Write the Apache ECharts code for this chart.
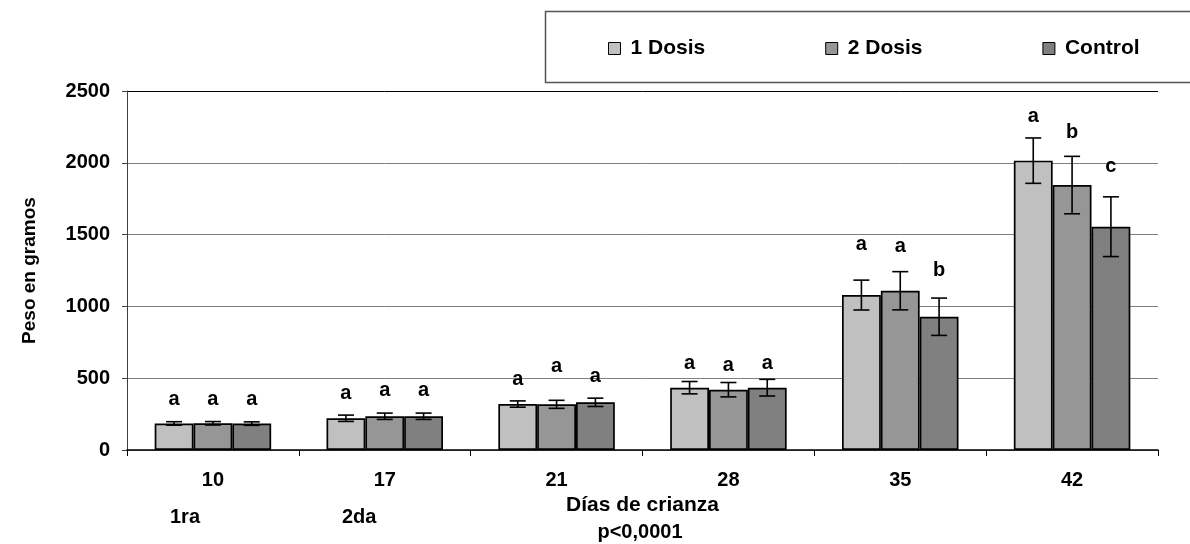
<!DOCTYPE html>
<html>
<head>
<meta charset="utf-8">
<script src="https://cdn.jsdelivr.net/npm/echarts@6/dist/echarts.min.js"></script>
<style>html,body{margin:0;padding:0;background:#fff}#c{width:1190px;height:544px}</style>
</head>
<body>
<div id="c"></div>
<script>
const categories = ['10', '17', '21', '28', '35', '42'];
const seriesNames = ['1 Dosis', '2 Dosis', 'Control'];
const dosis1 = [185, 221, 320, 434, 1079, 2015];
const dosis2 = [186, 235, 318, 420, 1109, 1845];
const control = [184, 235, 332, 434, 928, 1555];
const err1 = [12, 22, 22, 43, 104, 158];
const err2 = [12, 22, 28, 50, 133, 200];
const errC = [12, 22, 29, 58, 130, 208];
const letters1 = ['a', 'a', 'a', 'a', 'a', 'a'];
const letters2 = ['a', 'a', 'a', 'a', 'a', 'b'];
const lettersC = ['a', 'a', 'a', 'a', 'b', 'c'];
const letterY1 = [355, 397, 494, 604, 1428, 2321];
const letterY2 = [355, 411, 580, 592, 1416, 2210];
const letterYC = [355, 411, 510, 604, 1253, 1973];
const yTicks = [0, 500, 1000, 1500, 2000, 2500];

const FONT = "'Liberation Sans', Arial, sans-serif";
const colors = ['#C0C0C0', '#969696', '#808080'];
const values = [dosis1, dosis2, control];
const errs = [err1, err2, errC];
const letters = [letters1, letters2, lettersC];
const letterYs = [letterY1, letterY2, letterYC];
const BAR_FRAC = 0.226;

const chart = echarts.init(document.getElementById('c'));
const series = [];
values.forEach((vals, s) => {
  series.push({
    name: seriesNames[s], type: 'bar', data: vals,
    barWidth: (BAR_FRAC * 100) + '%', barGap: '0%',
    itemStyle: { color: colors[s], borderColor: '#000', borderWidth: 1.7 },
    z: 2
  });
});
values.forEach((vals, s) => {
  const off = s - 1;
  series.push({
    type: 'custom', silent: true, z: 5,
    data: vals.map((v, i) => [i, v - errs[s][i], v + errs[s][i]]),
    encode: { x: 0, y: [1, 2] },
    renderItem: function (params, api) {
      const band = api.size([1, 0])[0];
      const lo = api.coord([api.value(0), api.value(1)]);
      const hi = api.coord([api.value(0), api.value(2)]);
      const x = lo[0] + off * band * BAR_FRAC;
      const cap = 8;
      const st = { stroke: '#000', lineWidth: 1.6 };
      return { type: 'group', children: [
        { type: 'line', shape: { x1: x, y1: lo[1], x2: x, y2: hi[1] }, style: st },
        { type: 'line', shape: { x1: x - cap, y1: lo[1], x2: x + cap, y2: lo[1] }, style: st },
        { type: 'line', shape: { x1: x - cap, y1: hi[1], x2: x + cap, y2: hi[1] }, style: st }
      ] };
    }
  });
  series.push({
    type: 'custom', silent: true, z: 6,
    data: letterYs[s].map((v, i) => [i, v]),
    encode: { x: 0, y: 1 },
    renderItem: function (params, api) {
      const band = api.size([1, 0])[0];
      const p = api.coord([api.value(0), api.value(1)]);
      return { type: 'text', x: p[0] + off * band * BAR_FRAC, y: p[1],
        style: { text: letters[s][params.dataIndex], fill: '#000', font: 'bold 20px ' + FONT,
          align: 'center', verticalAlign: 'middle' } };
    }
  });
});

chart.setOption({
  animation: false,
  backgroundColor: '#fff',
  textStyle: { fontFamily: FONT },
  grid: { left: 127, right: 32, top: 91, bottom: 94, containLabel: false },
  legend: {
    data: seriesNames, left: 603, top: 33, itemWidth: 12, itemHeight: 12, itemGap: 120,
    icon: 'rect',
    itemStyle: { borderColor: '#000', borderWidth: 1 },
    textStyle: { fontFamily: FONT, fontWeight: 'bold', fontSize: 21, color: '#000', padding: [0, 0, 0, 5] }
  },
  graphic: [
    { type: 'rect', left: 543, top: 9, shape: { x: 0, y: 0, width: 700, height: 71 },
      style: { fill: 'none', stroke: '#555', lineWidth: 1.5 }, z: -1 },
    { type: 'text', left: 170, top: 507, style: { text: '1ra', font: 'bold 20px ' + FONT, fill: '#000' } },
    { type: 'text', left: 342, top: 507, style: { text: '2da', font: 'bold 20px ' + FONT, fill: '#000' } },
    { type: 'text', x: 640, y: 532, style: { text: 'p<0,0001', font: 'bold 20px ' + FONT, fill: '#000', align: 'center', verticalAlign: 'middle' } }
  ],
  xAxis: {
    type: 'category', data: categories,
    name: 'Días de crianza', nameLocation: 'middle', nameGap: 39,
    nameTextStyle: { fontFamily: FONT, fontWeight: 'bold', fontSize: 21, color: '#000' },
    axisLine: { lineStyle: { color: '#000', width: 1.5 } },
    axisTick: { show: true, length: 6, lineStyle: { color: '#000', width: 1 } },
    axisLabel: { margin: 20, color: '#000', fontFamily: FONT, fontWeight: 'bold', fontSize: 20 }
  },
  yAxis: {
    type: 'value', min: 0, max: 2500, interval: 500,
    name: 'Peso en gramos', nameLocation: 'middle', nameGap: 88, nameRotate: 90,
    nameTextStyle: { fontFamily: FONT, fontWeight: 'bold', fontSize: 19, color: '#000' },
    axisLine: { show: true, lineStyle: { color: '#404040', width: 1 } },
    axisTick: { show: true, length: 5, lineStyle: { color: '#404040', width: 1 } },
    axisLabel: { margin: 17, color: '#000', fontFamily: FONT, fontWeight: 'bold', fontSize: 20,
      formatter: v => yTicks.indexOf(v) >= 0 ? String(v) : '' },
    splitLine: { show: true, lineStyle: { color: ['#808080', '#808080', '#808080', '#808080', '#808080', '#000'], width: 1 } }
  },
  series: series
});
</script>
</body>
</html>
